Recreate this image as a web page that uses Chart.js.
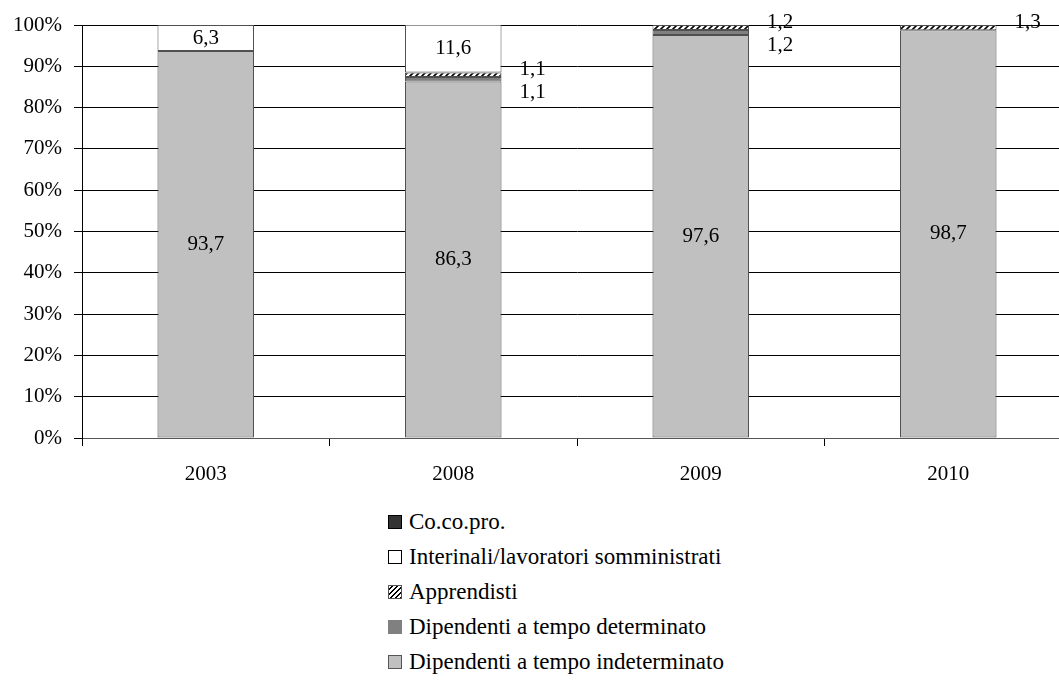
<!DOCTYPE html>
<html>
<head>
<meta charset="utf-8">
<script src="https://cdn.jsdelivr.net/npm/chart.js@4.4.0/dist/chart.umd.min.js"></script>
<style>
  html, body { margin: 0; padding: 0; background: #fff; width: 1059px; height: 688px; overflow: hidden; }
  #wrap { position: absolute; left: 0; top: 0; width: 1072px; height: 500px; }
  #legend { position: absolute; left: 388px; top: 504px; font-family: "Liberation Serif", "Times New Roman", serif; font-size: 23px; color: #000; }
  .item { height: 35px; display: flex; align-items: center; }
  .box { width: 14px; height: 14px; border: 1px solid #000; margin-right: 7px; box-sizing: border-box; }
</style>
</head>
<body>
<div id="wrap"><canvas id="c" width="1072" height="500"></canvas></div>
<div id="legend"></div>
<script>
const categories = ['2003', '2008', '2009', '2010'];
const seriesNames = ['Dipendenti a tempo indeterminato', 'Dipendenti a tempo determinato', 'Apprendisti', 'Interinali/lavoratori somministrati', 'Co.co.pro.'];
const indeterminato = [93.7, 86.3, 97.6, 98.7];
const determinato = [0, 1.1, 1.2, 0];
const apprendisti = [0, 1.1, 1.2, 1.3];
const interinali = [6.3, 11.6, 0, 0];
const cocopro = [0, 0, 0, 0];
const yTicks = [0, 10, 20, 30, 40, 50, 60, 70, 80, 90, 100];

function hatch() {
  const p = document.createElement('canvas');
  p.width = 6; p.height = 6;
  const g = p.getContext('2d');
  g.fillStyle = '#fff'; g.fillRect(0, 0, 6, 6);
  g.strokeStyle = '#000'; g.lineWidth = 1.6;
  g.beginPath();
  g.moveTo(-1, 7); g.lineTo(7, -1);
  g.moveTo(-4, 4); g.lineTo(4, -4);
  g.moveTo(2, 10); g.lineTo(10, 2);
  g.stroke();
  return g.createPattern(p, 'repeat');
}
const ctx = document.getElementById('c').getContext('2d');
const hatchPat = hatch();

const FONT = '"Liberation Serif", "Times New Roman", serif';
const FS = 21;
const fills = ['#c0c0c0', '#808080', hatchPat, '#ffffff', '#333333'];
const legendFills = ['#c0c0c0', '#808080', null, '#ffffff', '#333333'];
const values = [indeterminato, determinato, apprendisti, interinali, cocopro];

const datasets = values.map((arr, i) => ({
  label: seriesNames[i],
  data: arr,
  backgroundColor: fills[i],
  borderColor: '#505050',
  borderWidth: c => (c.raw > 0 ? 1 : 0),
  borderSkipped: false,
  categoryPercentage: 1,
  barPercentage: 0.39
}));

const fmt = v => v.toFixed(1).replace('.', ',');

const labelPlugin = {
  id: 'labels',
  afterDatasetsDraw(chart) {
    const c = chart.ctx;
    c.save();
    c.font = FS + 'px ' + FONT;
    c.fillStyle = '#000';
    c.textBaseline = 'middle';
    chart.data.datasets.forEach((ds, di) => {
      const meta = chart.getDatasetMeta(di);
      meta.data.forEach((el, i) => {
        const v = ds.data[i];
        if (!(v > 0)) return;
        const mid = (el.y + el.base) / 2;
        if (di === 0 || di === 3) {
          c.textAlign = 'center';
          c.fillText(fmt(v), el.x, mid);
        } else {
          c.textAlign = 'left';
          const dy = di === 1 ? 13 : -5;
          c.fillText(fmt(v), el.x + el.width / 2 + 18, mid + dy);
        }
      });
    });
    c.restore();
  }
};

new Chart(ctx, {
  type: 'bar',
  data: { labels: categories, datasets },
  options: {
    responsive: false,
    animation: false,
    layout: { padding: { top: 25, left: 0, right: 0, bottom: 0 } },
    plugins: { legend: { display: false }, tooltip: { enabled: false } },
    scales: {
      x: {
        stacked: true,
        offset: true,
        grid: { offset: true, drawOnChartArea: false, drawTicks: true, tickLength: 8, color: '#000' },
        border: { color: '#555', width: 1 },
        ticks: { color: '#000', font: { family: FONT, size: FS }, padding: 16 },
        afterFit: s => { s.height = 62; }
      },
      y: {
        stacked: true,
        min: 0, max: 100,
        afterBuildTicks: s => { s.ticks = yTicks.map(v => ({ value: v })); },
        grid: { color: '#000', tickLength: 8, lineWidth: 1 },
        border: { color: '#000', width: 1 },
        ticks: { color: '#000', font: { family: FONT, size: FS }, padding: 12, callback: v => v + '%' },
        afterFit: s => { s.width = 82; }
      }
    }
  },
  plugins: [labelPlugin]
});

const legend = document.getElementById('legend');
for (let i = seriesNames.length - 1; i >= 0; i--) {
  const item = document.createElement('div');
  item.className = 'item';
  const box = document.createElement('span');
  box.className = 'box';
  if (legendFills[i]) {
    box.style.background = legendFills[i];
    if (i === 1) box.style.borderColor = '#808080';
    if (i === 0) box.style.borderColor = '#555';
  } else {
    box.style.background = 'repeating-linear-gradient(-45deg, #000 0 1.2px, #fff 1.2px 3.5px)';
    box.style.borderColor = '#555';
  }
  const t = document.createElement('span');
  t.textContent = seriesNames[i];
  item.appendChild(box); item.appendChild(t);
  legend.appendChild(item);
}
</script>
</body>
</html>
